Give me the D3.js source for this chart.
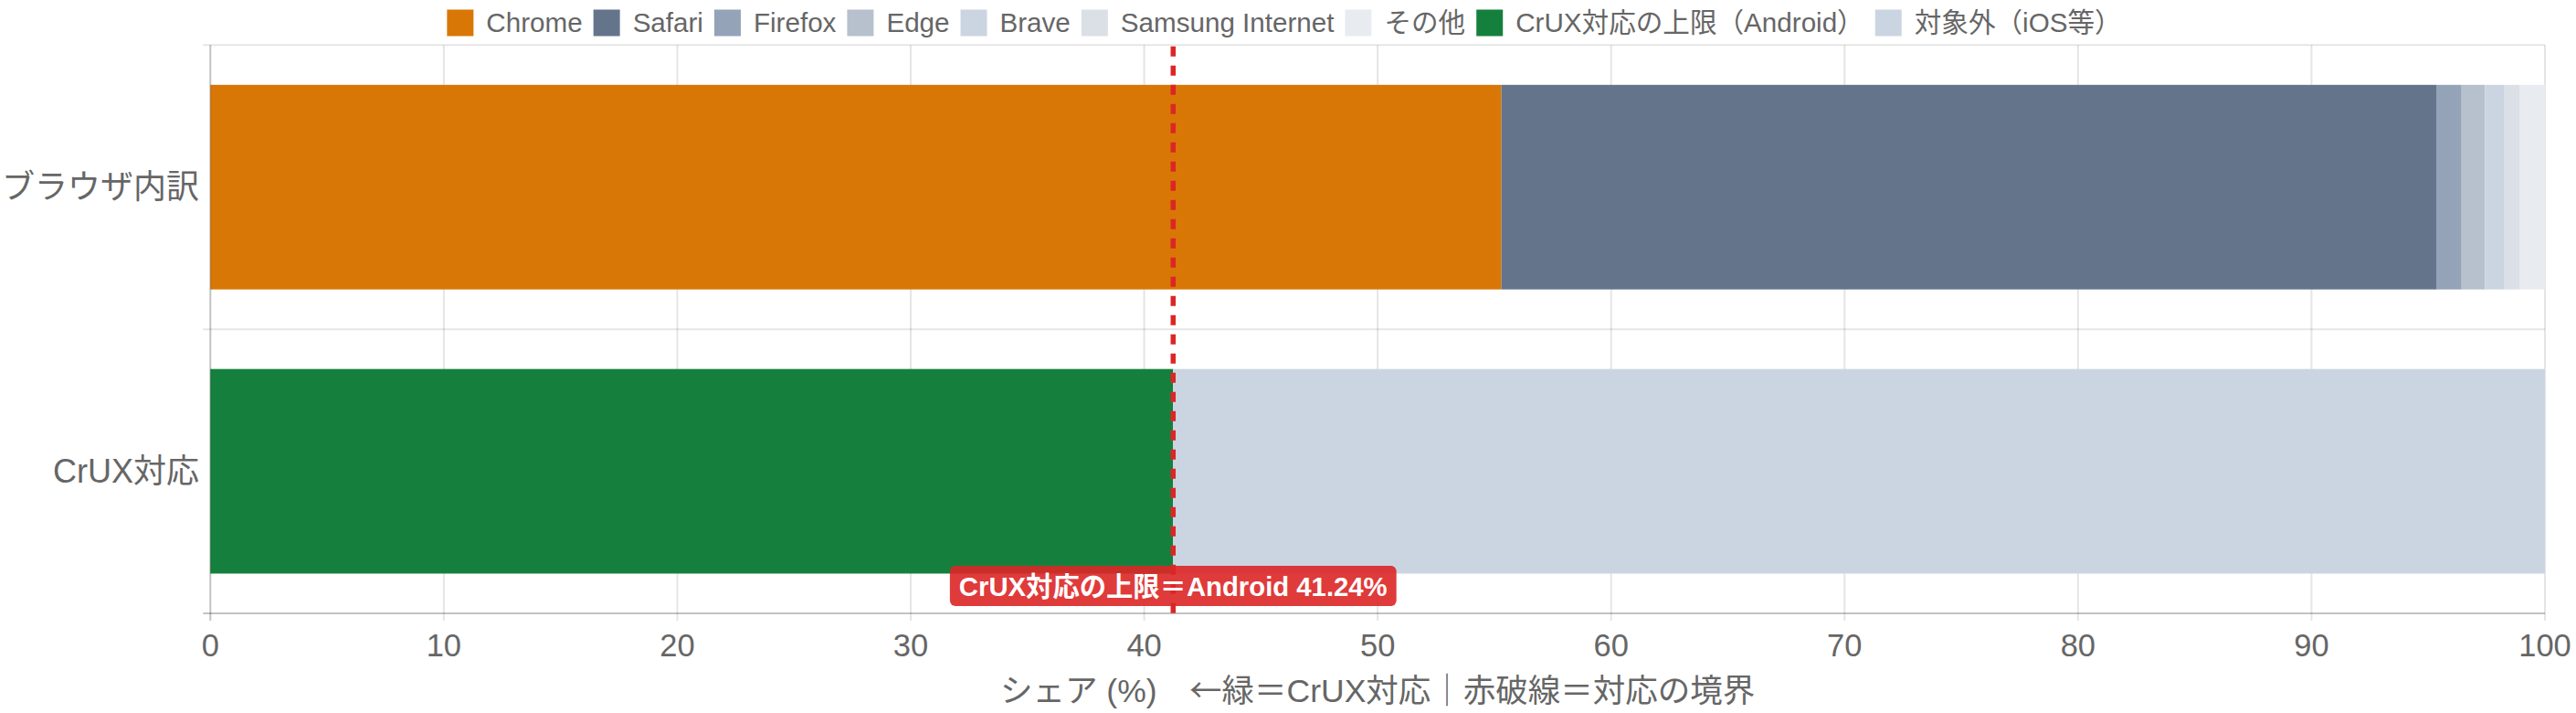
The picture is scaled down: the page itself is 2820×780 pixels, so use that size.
<!DOCTYPE html>
<html><head><meta charset="utf-8">
<script src="https://cdn.jsdelivr.net/npm/d3@7"></script>
<style>
html,body{margin:0;padding:0;background:#fff;}
svg{display:block;font-family:"Liberation Sans","Noto Sans CJK JP",Arial,sans-serif;}
</style></head>
<body><svg id="c" width="2820" height="780"></svg>
<script>
const categories = ["ブラウザ内訳", "CrUX対応"];
const seriesNames = ["Chrome","Safari","Firefox","Edge","Brave","Samsung Internet","その他","CrUX対応の上限（Android）","対象外（iOS等）"];
const seriesColors = ["#d97706","#64748b","#94a3b8","#b7c1cd","#cbd5e1","#dbe0e6","#e8ecf0","#15803d","#cbd5e1"];
// values per series for [ブラウザ内訳, CrUX対応]
const chromeVals   = [55.30, 0];
const safariVals   = [40.07, 0];
const firefoxVals  = [1.06, 0];
const edgeVals     = [1.00, 0];
const braveVals    = [0.84, 0];
const samsungVals  = [0.66, 0];
const otherVals    = [1.07, 0];
const androidVals  = [0, 41.24];
const excludedVals = [0, 58.76];
const xTicks = [0,10,20,30,40,50,60,70,80,90,100];
const thresholdValue = 41.24;
const thresholdLabel = "CrUX対応の上限＝Android 41.24%";
const xTitleA = "シェア (%)　";
const xTitleArrow = "←";
const xTitleB = "緑＝CrUX対応｜赤破線＝対応の境界";

const allVals = [chromeVals,safariVals,firefoxVals,edgeVals,braveVals,samsungVals,otherVals,androidVals,excludedVals];

const svg = d3.select("#c");
const L = 230.3, R = 2786, T = 49.3, B = 671;
const x = d3.scaleLinear().domain([0,100]).range([L,R]);
const y = d3.scaleBand().domain(categories).range([T,B]).paddingInner(0).paddingOuter(0);
const gridC = "rgba(0,0,0,0.1)";
const textC = "#666";

// vertical gridlines
const g = svg.append("g");
g.selectAll("line.vg").data(xTicks).enter().append("line")
  .attr("x1",d=>x(d)).attr("x2",d=>x(d)).attr("y1",T).attr("y2",B+8)
  .attr("stroke",gridC).attr("stroke-width",2);
// horizontal gridlines (band boundaries)
const hb = [T, T+y.bandwidth(), B];
g.selectAll("line.hg").data(hb).enter().append("line")
  .attr("x1",L-8).attr("x2",R).attr("y1",d=>d).attr("y2",d=>d)
  .attr("stroke",gridC).attr("stroke-width",2);

// stacked bars
const barH = y.bandwidth()*0.72;
const off = (y.bandwidth()-barH)/2;
categories.forEach((cat,ci)=>{
  let acc = 0;
  allVals.forEach((vals,si)=>{
    const v = vals[ci];
    if(v>0){
      svg.append("rect")
        .attr("x",x(acc)).attr("width",x(acc+v)-x(acc))
        .attr("y",y(cat)+off).attr("height",barH)
        .attr("fill",seriesColors[si]);
    }
    acc += v;
  });
});

// axis lines
svg.append("line").attr("x1",L).attr("x2",L).attr("y1",T).attr("y2",B+8).attr("stroke","rgba(0,0,0,0.15)").attr("stroke-width",2);
svg.append("line").attr("x1",L-8).attr("x2",R).attr("y1",B).attr("y2",B).attr("stroke","rgba(0,0,0,0.15)").attr("stroke-width",2);

// x tick labels
svg.selectAll("text.xt").data(xTicks).enter().append("text")
  .attr("x",d=>x(d)).attr("y",718).attr("text-anchor","middle")
  .attr("fill",textC).attr("font-size",34.5).text(d=>d);

// y labels
svg.selectAll("text.yl").data(categories).enter().append("text")
  .attr("x",218).attr("y",d=>y(d)+y.bandwidth()/2).attr("dy","0.35em")
  .attr("text-anchor","end").attr("fill",textC).attr("font-size",36).text(d=>d);

// x title
const tt = svg.append("text").attr("x",(L+R)/2).attr("y",768).attr("text-anchor","middle")
  .attr("fill",textC).attr("font-size",35.5);
tt.append("tspan").text(xTitleA);
tt.append("tspan").attr("font-family","Noto Sans CJK JP").text(xTitleArrow);
tt.append("tspan").text(xTitleB);

// threshold dashed line
svg.append("line").attr("x1",x(thresholdValue)).attr("x2",x(thresholdValue))
  .attr("y1",T+1.5).attr("y2",B)
  .attr("stroke","#dc2626").attr("stroke-width",5.5).attr("stroke-dasharray","11,10");

// threshold label
const lg = svg.append("g");
const lt = lg.append("text").attr("x",x(thresholdValue)).attr("y",641).attr("dy","0.36em")
  .attr("text-anchor","middle").attr("fill","#fff").attr("font-weight","bold").attr("font-size",29.3)
  .text(thresholdLabel);
const tw = lt.node().getComputedTextLength();
lg.insert("rect","text").attr("x",x(thresholdValue)-tw/2-10).attr("width",tw+20)
  .attr("y",619).attr("height",44).attr("rx",6).attr("fill","rgba(220,38,38,0.9)");

// legend
const leg = svg.append("g");
const box = 29, gapText = 14, gapItem = 12, fs = 29.6;
const items = seriesNames.map((n,i)=>{
  const t = leg.append("text").attr("font-size",fs).attr("fill",textC).attr("y",25).attr("dy","0.35em").text(n);
  return {t, w: t.node().getComputedTextLength(), c: seriesColors[i]};
});
const total = d3.sum(items, d=>box+gapText+d.w) + gapItem*(items.length-1);
let cx = 1406 - total/2;
items.forEach(it=>{
  leg.append("rect").attr("x",cx).attr("y",10.5).attr("width",box).attr("height",box).attr("fill",it.c);
  it.t.attr("x",cx+box+gapText);
  cx += box+gapText+it.w+gapItem;
});
</script></body></html>
